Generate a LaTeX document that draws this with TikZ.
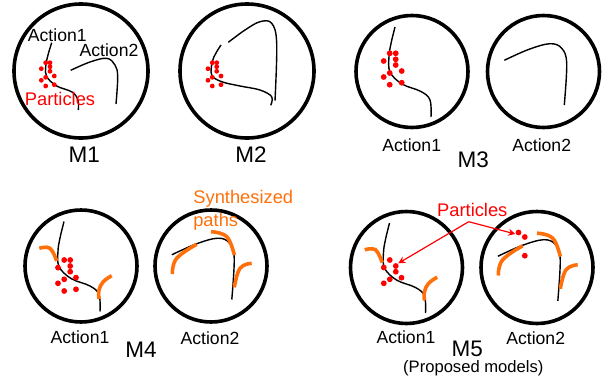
\documentclass[tikz,border=0pt]{standalone}
\usepackage{fontspec}
\setmainfont{Liberation Sans}
\usepackage{tikz}
\usetikzlibrary{arrows.meta}

\definecolor{synorange}{RGB}{255,112,10}
\tikzset{
  ring/.style={line width=3.6pt},
  track/.style={line width=1.4pt},
  synth/.style={line width=3.6pt,color=synorange},
  actlabel/.style={inner sep=0pt,font=\fontsize{17.6}{19}\selectfont},
  modlabel/.style={inner sep=0pt,font=\fontsize{22.5}{24}\selectfont},
  redlabel/.style={inner sep=0pt,font=\fontsize{18.3}{20}\selectfont,text=red},
  orglabel/.style={inner sep=0pt,font=\fontsize{18.3}{20}\selectfont,text=synorange},
  parrow/.style={red,line width=1.2pt,-{Stealth[length=7pt,width=7pt]}},
}

% the two tracks, relative to the centre of their circle
\newcommand{\trackA}{
  \draw[track] plot[smooth,tension=0.6] coordinates
    {(-17,-44.5) (-21,-28) (-23,-15) (-22,0.5) (-10,12.5) (9,20) (18,28.5) (19,45.5)};
}
\newcommand{\trackB}{
  \draw[track] plot[smooth,tension=0.6] coordinates
    {(-39.2,-11.2) (-15,-22) (6.5,-27.8) (18.2,-23.2) (23.2,-8.2) (20.8,33.5)};
}
% orange paths
\newcommand{\synthA}{
  \draw[synth] plot[smooth,tension=0.7] coordinates {(-41.7,-17.7) (-31,-17.7) (-24.3,-5)};
  \draw[synth] plot[smooth,tension=0.7] coordinates {(30.7,9.7) (22.3,15.7) (18,24) (18,33)};
}
\newcommand{\synthB}{
  \draw[synth] plot[smooth,tension=0.7] coordinates {(-38.7,8) (-34.3,-7.7) (-14.3,-21.7)};
  \draw[synth] plot[smooth,tension=0.7] coordinates {(0,-34.3) (15.7,-29.3) (23.3,-11)};
  \draw[synth] plot[smooth,tension=0.7] coordinates {(40.7,-2.7) (29,2.3) (23.3,21.3)};
}

\begin{document}
\begin{tikzpicture}[x=1pt,y=-1pt]
  \useasboundingbox (0,0) rectangle (611,383);

  % circles
  \foreach \cx/\cy/\r in {81/71/67, 247/71/67, 412/71.5/56, 543.5/71.5/56,
                          81/266/56, 211/266/56, 406.5/267.5/56, 537/267.5/56}
    \draw[ring] (\cx,\cy) circle (\r);

  % M1
  \draw[track] plot[smooth,tension=0.6] coordinates
    {(51.7,42.7) (48,55) (45.7,66.7) (46.7,76.7) (56.7,86) (72,92) (78,100) (78.3,110)};
  \draw[track] plot[smooth,tension=0.6] coordinates
    {(70.7,70.3) (90,62) (106.7,58.3) (115,65) (117.7,76.7) (116,104)};
  \foreach \x/\y in {45.7/62.7, 50/62.7, 41.3/68.7, 50/66.7, 50/71.3,
                     54.3/76, 45.7/77.3, 41.3/80.3, 45.7/86, 54.3/84.7}
    \fill[red] (\x,\y) circle (2.4);

  % M2
  \draw[track] plot[smooth,tension=0.6] coordinates
    {(221,45) (216,53) (212.3,61.7) (211.7,75) (221.7,81.7) (240,86) (260,90) (271.7,96.7) (270.7,105.3)};
  \draw[track] plot[smooth,tension=0.6] coordinates
    {(228.3,42.3) (245,30) (260,21.7) (271.7,23.3) (276.7,43.3) (275,100.7)};
  \foreach \x/\y in {212.3/62.7, 216.7/62.7, 208/68.7, 216.7/66.7, 216.7/71.3,
                     221/76, 212.3/77.3, 208/80.3, 212.3/86, 221/84.7}
    \fill[red] (\x,\y) circle (2.4);

  % M3
  \begin{scope}[shift={(412,71.5)}]
    \trackA
    \foreach \x/\y in {-22.3/-18.2, -16.3/-18.2, -28.3/-10.5, -16.3/-12.2, -16.3/-6.5,
                       -10.3/-0.5, -22.3/1.5, -28.3/5.5, -22.3/13.2, -10.3/11.2}
      \fill[red] (\x,\y) circle (2.9);
  \end{scope}
  \begin{scope}[shift={(543.5,71.5)}]
    \trackB
  \end{scope}

  % M4
  \begin{scope}[shift={(81,266)}]
    \trackA
    \synthA
    \foreach \x/\y in {-16.8/-6, -10.8/-6, -23/1.6, -10.8/0, -10.8/5.7,
                       -5/11.6, -16.8/13.3, -23/17.3, -16.8/25, -5/23.3}
      \fill[red] (\x,\y) circle (2.9);
  \end{scope}
  \begin{scope}[shift={(211,266)}]
    \trackB
    \synthB
  \end{scope}

  % M5
  \begin{scope}[shift={(406.5,267.5)}]
    \trackA
    \synthA
    \foreach \x/\y in {-16.7/-7.5, -10.7/-1.5, -22.7/0, -10.7/4.2, -5/10.2, -16.7/11.8, -22.7/15.8}
      \fill[red] (\x,\y) circle (2.9);
  \end{scope}
  \begin{scope}[shift={(537,267.5)}]
    \trackB
    \synthB
    \foreach \x/\y in {-18.5/-35, -12.2/-30.5, -12.2/-11.8}
      \fill[red] (\x,\y) circle (2.9);
  \end{scope}

  % particle arrows
  \coordinate (pjoin) at (468.7,221.7);
  \coordinate (ptipA) at (398.3,263.3);
  \coordinate (ptipB) at (515.3,234);
  \draw[parrow] (pjoin)--(ptipA);
  \draw[parrow] (pjoin)--(ptipB);

  % labels
  \node[actlabel] (a1m1) at (57.3,35) {Action1};
  \node[actlabel] (a2m1) at (109,50.7) {Action2};
  \node[redlabel] (pm1) at (60,99.3) {Particles};
  \node[modlabel] (m1) at (84.3,154.3) {M1};
  \node[modlabel] (m2) at (251,154.3) {M2};
  \node[actlabel] (a1m3) at (411.7,145) {Action1};
  \node[actlabel] (a2m3) at (541.7,145) {Action2};
  \node[modlabel] (m3) at (473.3,160) {M3};
  \node[actlabel] (a1m4) at (80,337.3) {Action1};
  \node[actlabel] (a2m4) at (210,338.3) {Action2};
  \node[modlabel] (m4) at (141,350) {M4};
  \node[orglabel] (syn) at (243.3,198.3) {Synthesized};
  \node[orglabel] (pth) at (215.7,221.7) {paths};
  \node[actlabel] (a1m5) at (406,337.3) {Action1};
  \node[actlabel] (a2m5) at (535.7,338.3) {Action2};
  \node[modlabel] (m5) at (467.3,348.5) {M5};
  \node[inner sep=0pt,font=\fontsize{16.6}{18}\selectfont] (prop) at (473.3,368.5) {(Proposed models)};
  \node[redlabel] (pm5) at (472.3,210) {Particles};
\end{tikzpicture}
\end{document}
